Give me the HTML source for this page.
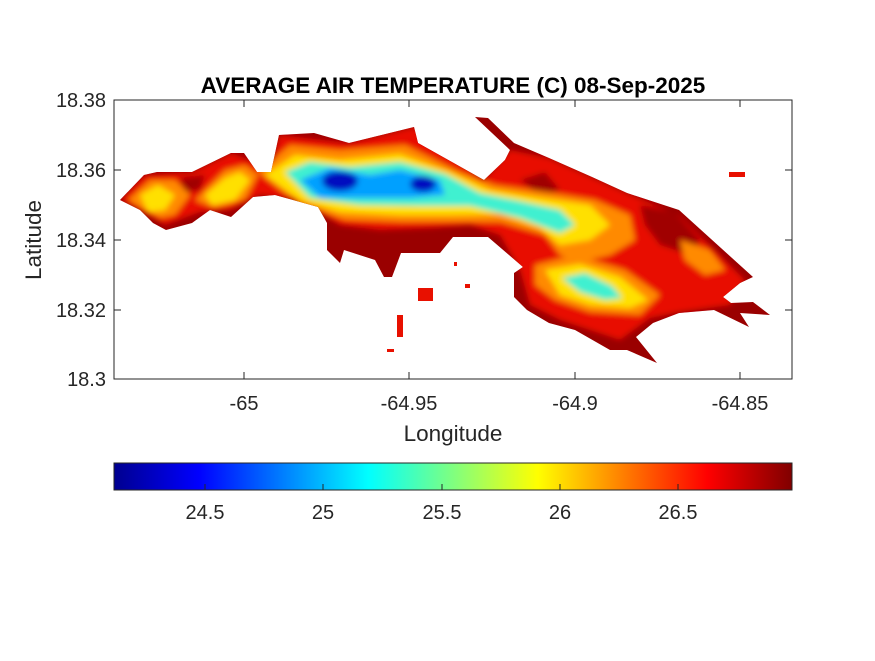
<!DOCTYPE html>
<html><head><meta charset="utf-8"><style>
body{margin:0;background:#fff;}
svg text{font-family:"Liberation Sans",Arial,sans-serif;fill:#262626;}
</style></head><body>
<svg width="875" height="656" viewBox="0 0 875 656" xmlns="http://www.w3.org/2000/svg">
<defs>
<linearGradient id="jet" x1="0" x2="1" y1="0" y2="0">
<stop offset="0" stop-color="#00008f"/>
<stop offset="0.125" stop-color="#0000ff"/>
<stop offset="0.375" stop-color="#00ffff"/>
<stop offset="0.625" stop-color="#ffff00"/>
<stop offset="0.875" stop-color="#ff0000"/>
<stop offset="1" stop-color="#800000"/>
</linearGradient>
<clipPath id="isl"><polygon points="120,200 144,175 157,172 192,172 231,153 244,153 257,172 271,172 279,135 314,133 349,143 414,127 418,143 484,180 505,160 510,150 475,117 488,118 514,143 549,158 592,177 627,193 679,210 753,277 740,283 723,297 731,303 753,302 770,315 740,313 749,327 714,310 679,313 653,323 636,337 657,363 627,350 610,350 575,330 549,323 527,310 514,297 514,273 523,267 488,237 453,237 440,253 401,253 392,277 384,277 375,260 344,250 340,263 327,250 327,223 318,207 275,195 253,197 231,217 210,210 192,223 166,230 153,223 140,210"/></clipPath>
<filter id="bl" x="-20%" y="-20%" width="140%" height="140%"><feGaussianBlur stdDeviation="3"/></filter>
</defs>
<rect x="114" y="100" width="678" height="279" fill="#fff" stroke="#262626" stroke-width="1"/>
<g clip-path="url(#isl)">
<rect x="110" y="100" width="690" height="280" fill="#9a0000"/>
<g filter="url(#bl)">
<polygon fill="#e81000" points="120,200 144,175 192,172 231,153 271,168 279,135 349,143 414,127 484,180 510,150 549,158 627,193 679,215 745,280 730,305 680,312 650,318 620,340 560,320 530,305 520,270 500,235 470,225 430,228 380,230 340,225 300,200 260,195 230,210 200,212 165,225 140,210"/>
<polygon fill="#a00000" points="640,205 675,212 700,240 690,255 660,245 645,225"/>
<polygon fill="#a00000" points="520,180 545,172 560,190 540,195"/>
<polygon fill="#a00000" points="180,178 205,175 200,190 185,192"/>
<polygon fill="#ff8a00" points="128,200 150,180 175,180 190,195 175,215 160,218 140,208"/>
<polygon fill="#ff8a00" points="195,200 225,170 245,165 258,175 245,200 215,208"/>
<polygon fill="#ff8a00" points="258,172 290,145 340,150 405,145 460,172 495,185 545,192 595,200 630,215 635,240 610,255 580,262 560,255 545,235 500,222 450,222 400,222 345,220 300,205"/>
<polygon fill="#ff8a00" points="535,265 575,255 625,270 660,295 640,315 590,312 555,300 535,285"/>
<polygon fill="#ff8a00" points="680,240 710,250 725,270 705,275 685,260"/>
<polygon fill="#ffe000" points="140,195 158,185 175,195 165,210 148,212"/>
<polygon fill="#ffe000" points="205,195 225,178 240,172 250,180 235,200 212,205"/>
<polygon fill="#ffe000" points="265,175 295,155 340,160 400,154 450,172 490,190 540,198 590,205 610,225 590,240 560,245 540,228 500,214 450,215 400,215 340,212 300,200"/>
<polygon fill="#ffe000" points="545,270 580,264 620,277 648,300 630,308 590,305 560,295"/>
<polygon fill="#40f0d0" points="285,172 310,162 350,167 400,162 445,174 480,193 520,201 560,210 575,225 560,233 520,218 470,206 420,206 360,205 310,198"/>
<polygon fill="#40f0d0" points="562,278 585,273 612,286 622,298 605,300 580,292"/>
<polygon fill="#00a0ff" points="300,180 330,168 370,175 400,170 440,180 445,195 410,198 370,198 320,198"/>
<ellipse cx="340" cy="181" rx="18" ry="10" fill="#0010c0"/>
<ellipse cx="423" cy="184" rx="13" ry="8" fill="#0010c0"/>
</g>
</g>
<g fill="#e81000">
<rect x="418" y="288" width="15" height="13"/>
<rect x="397" y="315" width="6" height="22"/>
<rect x="387" y="349" width="7" height="3"/>
<rect x="465" y="284" width="5" height="4"/>
<rect x="454" y="262" width="3" height="4"/>
<rect x="729" y="172" width="16" height="5"/>
</g>
<g stroke="#262626" stroke-width="1">
<line x1="244" y1="379" x2="244" y2="372"/><line x1="409" y1="379" x2="409" y2="372"/>
<line x1="575" y1="379" x2="575" y2="372"/><line x1="740" y1="379" x2="740" y2="372"/>
<line x1="244" y1="100" x2="244" y2="107"/><line x1="409" y1="100" x2="409" y2="107"/>
<line x1="575" y1="100" x2="575" y2="107"/><line x1="740" y1="100" x2="740" y2="107"/>
<line x1="114" y1="170" x2="121" y2="170"/><line x1="114" y1="240" x2="121" y2="240"/><line x1="114" y1="310" x2="121" y2="310"/>
<line x1="792" y1="170" x2="785" y2="170"/><line x1="792" y1="240" x2="785" y2="240"/><line x1="792" y1="310" x2="785" y2="310"/>
</g>
<text x="453" y="93" text-anchor="middle" font-size="22.5" font-weight="bold" style="fill:#000">AVERAGE AIR TEMPERATURE (C) 08-Sep-2025</text>
<g font-size="20" text-anchor="end">
<text x="106" y="107">18.38</text><text x="106" y="177">18.36</text>
<text x="106" y="247">18.34</text><text x="106" y="317">18.32</text><text x="106" y="386">18.3</text>
</g>
<g font-size="20" text-anchor="middle">
<text x="244" y="410">-65</text><text x="409" y="410">-64.95</text>
<text x="575" y="410">-64.9</text><text x="740" y="410">-64.85</text>
</g>
<text x="453" y="441" text-anchor="middle" font-size="22.5">Longitude</text>
<text transform="translate(41,240) rotate(-90)" text-anchor="middle" font-size="22.5">Latitude</text>
<rect x="114" y="463" width="678" height="27" fill="url(#jet)" stroke="#262626" stroke-width="1"/>
<g stroke="#262626" stroke-width="1">
<line x1="205" y1="490" x2="205" y2="484"/><line x1="323" y1="490" x2="323" y2="484"/>
<line x1="442" y1="490" x2="442" y2="484"/><line x1="560" y1="490" x2="560" y2="484"/><line x1="678" y1="490" x2="678" y2="484"/>
</g>
<g font-size="20" text-anchor="middle">
<text x="205" y="519">24.5</text><text x="323" y="519">25</text><text x="442" y="519">25.5</text>
<text x="560" y="519">26</text><text x="678" y="519">26.5</text>
</g>
</svg>
</body></html>
